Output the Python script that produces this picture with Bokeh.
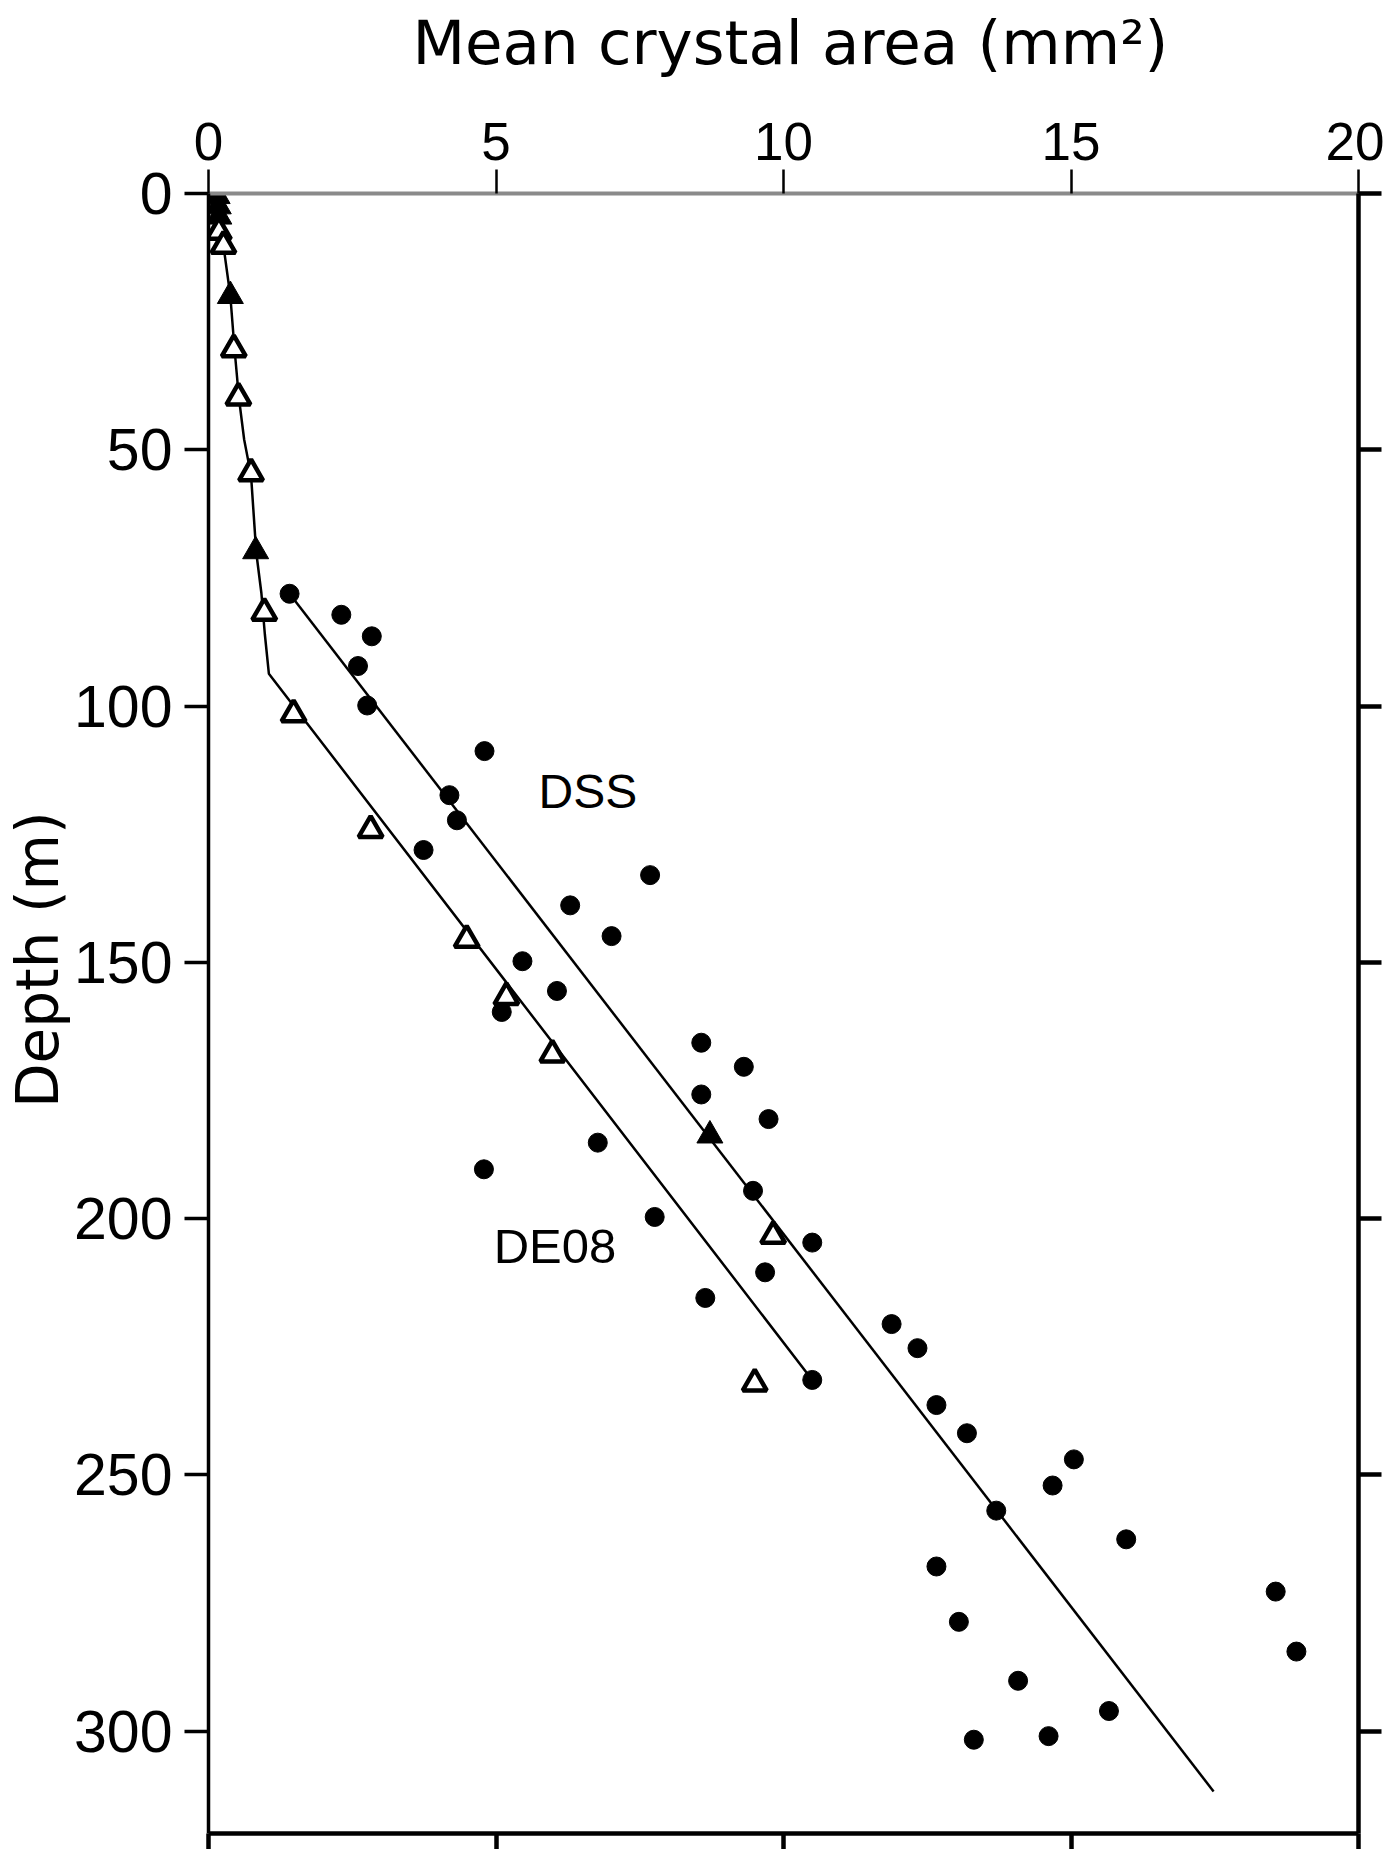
from bokeh.plotting import figure
from bokeh.models import Range1d, LinearAxis, FixedTicker, Label
from bokeh.embed import file_html
from bokeh.resources import INLINE

# ---- data (mean crystal area in mm^2, depth in m) ----
dss_area = [1.41, 2.31, 2.84, 2.60, 2.76, 4.80, 4.19, 4.32, 3.74, 7.68, 6.29, 7.01,
            5.46, 6.06, 5.10, 8.57, 9.31, 8.57, 9.74, 6.77, 4.79, 9.47, 7.76, 10.50,
            9.68, 8.64, 11.88, 12.33, 10.50, 12.66, 13.19, 15.05, 14.68, 13.70, 15.96,
            12.66, 18.56, 13.05, 18.92, 14.08, 15.66, 13.31, 14.61]
dss_depth = [78.1, 82.2, 86.4, 92.2, 99.9, 108.8, 117.4, 122.3, 128.1, 133.0, 138.9,
             144.9, 149.8, 155.6, 159.7, 165.7, 170.4, 175.8, 180.6, 185.2, 190.4,
             194.6, 199.7, 204.7, 210.5, 215.5, 220.6, 225.3, 231.5, 236.4, 241.9,
             247.0, 252.1, 257.0, 262.6, 267.9, 272.8, 278.7, 284.5, 290.2, 296.1,
             301.7, 301.0]

tri_filled_area = [0.15, 0.17, 0.18, 0.38, 0.82, 8.72]
tri_filled_depth = [0.5, 2.5, 4.5, 20.0, 69.8, 183.8]

tri_open_area = [0.18, 0.26, 0.44, 0.52, 0.74, 0.97, 1.48, 2.82, 4.49, 5.18, 5.98, 9.82, 9.50]
tri_open_depth = [7.5, 10.2, 30.4, 39.8, 54.6, 81.8, 101.6, 124.2, 145.6, 156.8, 168.0, 203.4, 232.2]

de08_fit_area = [0.14, 0.18, 0.27, 0.38, 0.45, 0.53, 0.62, 0.74, 0.80, 0.83, 0.92, 0.98, 1.05, 10.50]
de08_fit_depth = [0, 5, 11, 20, 30, 40, 48, 55, 65, 70, 78, 86, 93.7, 231.5]

dss_fit_area = [1.41, 17.48]
dss_fit_depth = [78.1, 311.8]

x_ticks = [0, 5, 10, 15, 20]
y_ticks = [0, 50, 100, 150, 200, 250, 300]

x_title = "Mean crystal area (mm\u00b2)"
y_title = "Depth (m)"
x_title_pos = 10.12   # centre of the x title, in data units
y_title_pos = 149.5   # centre of the y title, in data units

TICK_FONT = "Liberation Sans"
TITLE_FONT = "DejaVu Sans"

p = figure(width=1384, height=1849,
           x_range=Range1d(0, 20), y_range=Range1d(320, 0),
           output_backend="svg", toolbar_location=None,
           x_axis_location=None, y_axis_location=None,
           min_border_left=208, min_border_right=26,
           min_border_top=193, min_border_bottom=16)
p.outline_line_color = None
p.background_fill_color = "white"
p.border_fill_color = "white"
p.xgrid.visible = False
p.ygrid.visible = False

def style(ax, tick_out, lw, label_size, standoff, line_color="black", font=TICK_FONT):
    ax.major_tick_out = tick_out
    ax.major_tick_in = 0
    ax.minor_tick_out = 0
    ax.minor_tick_in = 0
    ax.axis_line_width = lw
    ax.axis_line_color = line_color
    ax.major_tick_line_width = lw
    ax.major_tick_line_color = "black"
    ax.major_label_text_font = font
    ax.major_label_text_font_size = label_size
    ax.major_label_text_color = "black"
    ax.major_label_standoff = standoff

# frame axes
top = LinearAxis(ticker=FixedTicker(ticks=x_ticks))
style(top, 24, 2.5, "53px", 10, line_color="#8a8a8a")
top.axis_line_width = 4
p.add_layout(top, "above")

left = LinearAxis(ticker=FixedTicker(ticks=y_ticks))
style(left, 24, 3.5, "59px", 12)
p.add_layout(left, "left")

right = LinearAxis(ticker=FixedTicker(ticks=y_ticks))
style(right, 23, 4.5, "0px", 0)
right.major_label_overrides = {t: "" for t in y_ticks}
p.add_layout(right, "right")

bottom = LinearAxis(ticker=FixedTicker(ticks=x_ticks))
style(bottom, 16, 4.5, "0px", 0)
bottom.major_label_overrides = {t: "" for t in x_ticks}
p.add_layout(bottom, "below")

# axis titles, carried by outer label-only axes so they can sit off-centre
top_title = LinearAxis(ticker=FixedTicker(ticks=[x_title_pos]))
style(top_title, 0, 1, "61px", 42, line_color=None, font=TITLE_FONT)
top_title.major_tick_line_color = None
top_title.major_label_overrides = {x_title_pos: x_title}
p.add_layout(top_title, "above")

left_title = LinearAxis(ticker=FixedTicker(ticks=[y_title_pos]))
style(left_title, 0, 1, "58px", 0, line_color=None, font=TITLE_FONT)
left_title.major_tick_line_color = None
left_title.major_label_orientation = "parallel"
left_title.major_label_overrides = {y_title_pos: y_title}
p.add_layout(left_title, "left")

# fit lines
p.line(dss_fit_area, dss_fit_depth, line_color="black", line_width=2.5)
p.line(de08_fit_area, de08_fit_depth, line_color="black", line_width=2.5)

# data points
p.scatter(dss_area, dss_depth, marker="circle", size=19,
          fill_color="black", line_color="black")
p.scatter(tri_filled_area, tri_filled_depth, marker="triangle", size=26,
          fill_color="black", line_color="black", line_width=1)
p.scatter(tri_open_area, tri_open_depth, marker="triangle", size=24,
          fill_color="white", line_color="black", line_width=4.5)

# annotations
p.add_layout(Label(x=5.74, y=116.7, text="DSS", text_font=TICK_FONT,
                   text_font_size="48px", text_color="black",
                   text_align="left", text_baseline="alphabetic"))
p.add_layout(Label(x=4.96, y=205.3, text="DE08", text_font=TICK_FONT,
                   text_font_size="49px", text_color="black",
                   text_align="left", text_baseline="alphabetic"))

open("out.html", "w").write(file_html(p, INLINE))
